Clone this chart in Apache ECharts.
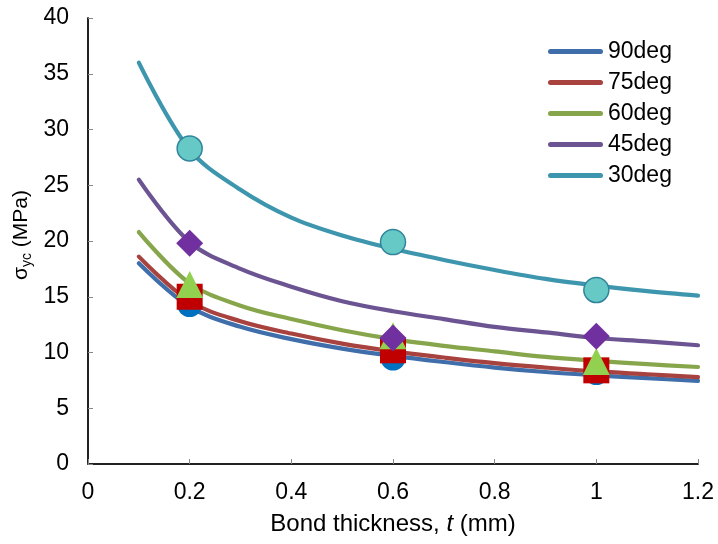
<!DOCTYPE html>
<html>
<head>
<meta charset="utf-8">
<title>Yield stress vs bond thickness</title>
<script src="https://cdn.jsdelivr.net/npm/echarts@6/dist/echarts.min.js"></script>
<style>
  html, body { margin: 0; padding: 0; background: #fff; }
  #chart { width: 718px; height: 544px; }
</style>
</head>
<body>
<div id="chart"></div>
<script>
// fitted curves, sampled along bond thickness (mm)
const thickness = [0.1, 0.2, 0.3, 0.4, 0.5, 0.6, 0.7, 0.8, 0.9, 1.0, 1.1, 1.2];
const curve90 = [18.0, 14.1, 12.3, 11.2, 10.35, 9.7, 9.15, 8.65, 8.25, 7.95, 7.7, 7.45];
const curve75 = [18.6, 14.6, 12.8, 11.7, 10.8, 10.1, 9.55, 9.05, 8.65, 8.3, 8.05, 7.8];
const curve60 = [20.8, 16.2, 14.2, 13.0, 12.0, 11.2, 10.6, 10.1, 9.6, 9.25, 8.95, 8.7];
const curve45 = [25.5, 19.9, 17.5, 15.9, 14.6, 13.7, 13.0, 12.3, 11.8, 11.3, 11.0, 10.65];
const curve30 = [36.0, 28.2, 24.6, 22.1, 20.5, 19.3, 18.3, 17.4, 16.6, 16.0, 15.5, 15.1];

// test points
const testThickness = [0.2, 0.6, 1.0];
const test90 = [14.3, 9.5, 8.2];
const test75 = [15.0, 10.2, 8.4];
const test60 = [16.1, 11.5, 9.2];
const test45 = [19.8, 11.3, 11.45];
const test30 = [28.3, 19.9, 15.6];

const legendNames = ["90deg", "75deg", "60deg", "45deg", "30deg"];

// x axis ticks
const xMin = 0, xMax = 1.2, xStep = 0.2;
// y axis ticks
const yMin = 0, yMax = 40, yStep = 5;

const lineColors = ["#3F6EAA", "#A8423F", "#87A64B", "#6B5491", "#3D96AE"];

const FONT = "Liberation Sans, Arial, sans-serif";
const AXIS_GRAY = "#868686";

function pairs(xs, ys) {
  return xs.map((x, i) => [x, ys[i]]);
}

const curves = [curve90, curve75, curve60, curve45, curve30];
const tests = [test90, test75, test60, test45, test30];
// marker look for each test set
const markers = [
  { symbol: "circle", size: 25, color: "#0070C0" },
  { symbol: "rect", size: 26, color: "#C00000" },
  { symbol: "triangle", size: 27, color: "#92D050" },
  { symbol: "diamond", size: 27, color: "#7030A0" },
  { symbol: "circle", size: 25, color: "#66C9C6", border: "#31849B" },
];

let series = [];
// lines first
curves.forEach((c, i) => {
  series.push({
    name: legendNames[i],
    type: "line",
    smooth: 0.35,
    symbol: "none",
    data: pairs(thickness, c),
    lineStyle: { width: 4.2, color: lineColors[i], cap: "round", join: "round" },
    itemStyle: { color: lineColors[i] },
    z: 2,
  });
});
// markers on top
tests.forEach((t, i) => {
  const m = markers[i];
  series.push({
    name: "test" + legendNames[i],
    type: "scatter",
    symbol: m.symbol,
    symbolSize: m.size,
    data: pairs(testThickness, t),
    itemStyle: {
      color: m.color,
      borderColor: m.border || m.color,
      borderWidth: m.border ? 1.5 : 0,
      opacity: 1,
    },
    z: 3,
  });
});

const chart = echarts.init(document.getElementById("chart"), null, { renderer: "canvas" });

chart.setOption({
  animation: false,
  textStyle: { fontFamily: FONT },
  grid: { left: 88, right: 20, top: 18, bottom: 80 },
  legend: {
    data: legendNames,
    orient: "vertical",
    left: 548,
    top: 40,
    padding: 0,
    icon: "path://M2.5,0 L52.5,0 A2.5,2.5 0 0 1 52.5,5 L2.5,5 A2.5,2.5 0 0 1 2.5,0 Z",
    itemWidth: 55,
    itemHeight: 5,
    itemGap: 8,
    textStyle: { fontSize: 23, color: "#000", fontFamily: FONT },
  },
  xAxis: [
    {
      type: "value",
      min: xMin,
      max: xMax,
      interval: xStep,
      name: "{n|Bond thickness, }{i|t}{n| (mm)}",
      nameLocation: "middle",
      nameGap: 48,
      nameTextStyle: {
        rich: {
          n: { fontSize: 24, color: "#000", fontFamily: FONT },
          i: { fontSize: 24, color: "#000", fontFamily: FONT, fontStyle: "italic" },
        },
      },
      axisLine: { show: true, onZero: false, lineStyle: { color: AXIS_GRAY, width: 2 } },
      axisTick: { show: true, inside: true, length: 5, lineStyle: { color: AXIS_GRAY, width: 1 } },
      axisLabel: { fontSize: 23, color: "#000", margin: 17, fontFamily: FONT },
      splitLine: { show: false },
    },
    {
      // top frame
      type: "value",
      position: "top",
      min: xMin,
      max: xMax,
      axisLine: { show: true, lineStyle: { color: "#000", width: 1.5 } },
      axisTick: { show: false },
      axisLabel: { show: false },
      splitLine: { show: false },
    },
  ],
  yAxis: [
    {
      type: "value",
      min: yMin,
      max: yMax,
      interval: yStep,
      name: "{s|σ}{sub|yc}{s| (MPa)}",
      nameLocation: "middle",
      nameRotate: 90,
      nameGap: 54,
      nameMoveOverlap: false,
      nameTextStyle: {
        padding: [0, 0, 0, 12],
        rich: {
          s: { fontSize: 21, color: "#000", fontFamily: FONT, lineHeight: 26, verticalAlign: "middle" },
          sub: { fontSize: 14, color: "#000", fontFamily: FONT, lineHeight: 12, verticalAlign: "bottom" },
        },
      },
      axisLine: { show: true, onZero: false, lineStyle: { color: AXIS_GRAY, width: 2 } },
      axisTick: { show: true, inside: true, length: 5, lineStyle: { color: AXIS_GRAY, width: 1 } },
      axisLabel: { fontSize: 23, color: "#000", margin: 19, fontFamily: FONT },
      splitLine: { show: false },
    },
    {
      // right frame
      type: "value",
      position: "right",
      min: yMin,
      max: yMax,
      axisLine: { show: true, lineStyle: { color: "#000", width: 1.5 } },
      axisTick: { show: false },
      axisLabel: { show: false },
      splitLine: { show: false },
    },
  ],
  series: series,
});
</script>
</body>
</html>
